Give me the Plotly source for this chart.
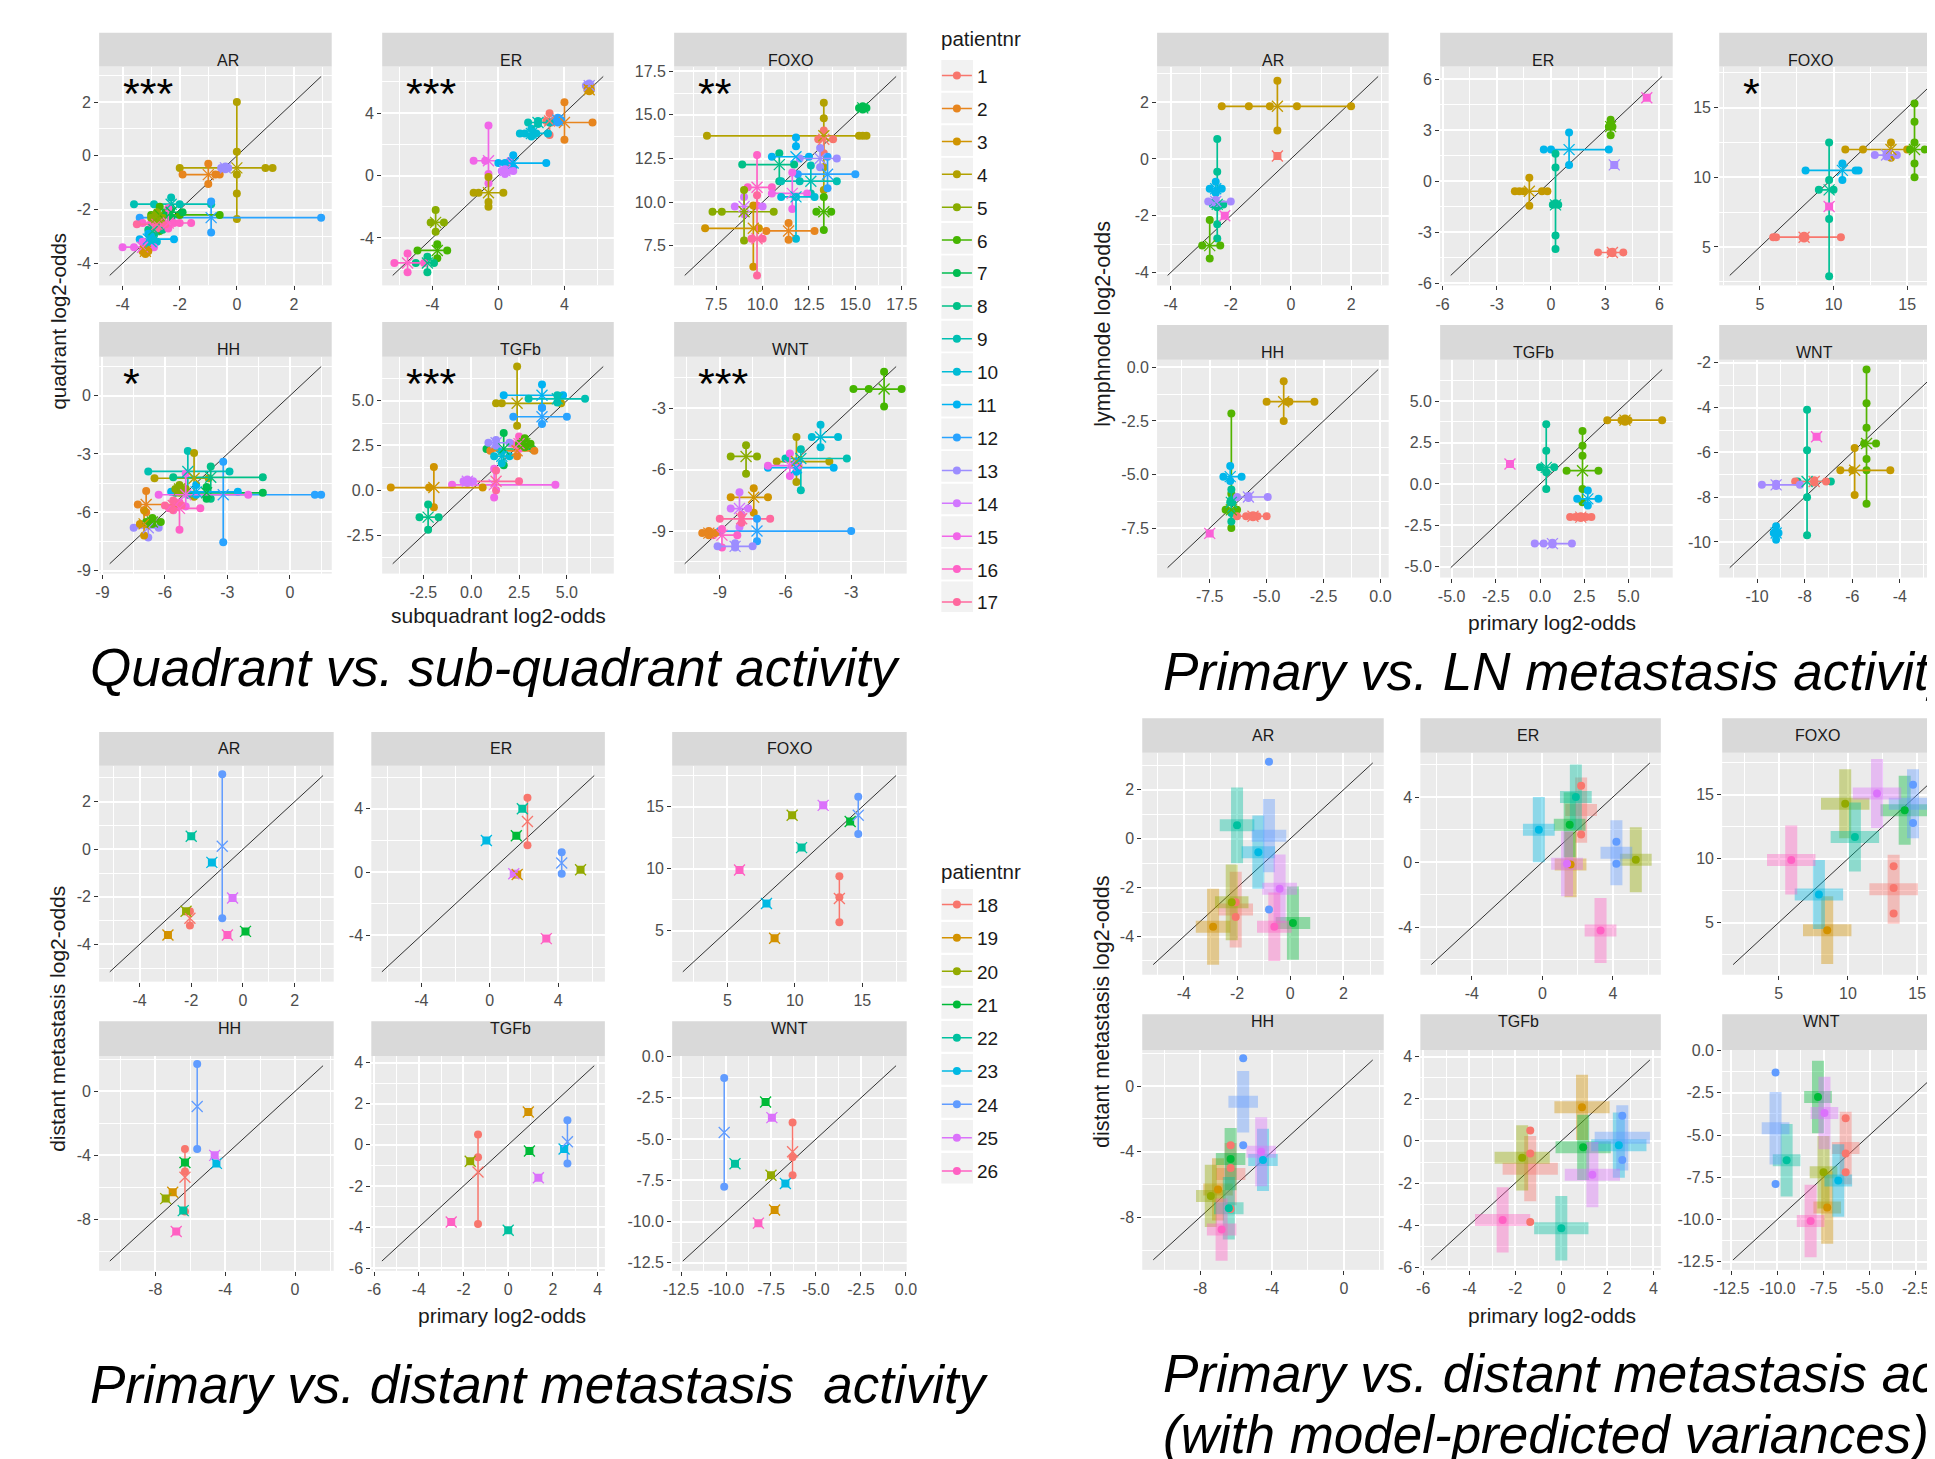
import math
import plotly.graph_objects as go

W, H = 1935, 1459
OFF = 8  # page offset of the figure (browser body margin); geometry below is in page pixels
FONT = "Liberation Sans, Arial, sans-serif"
PATHWAYS = ["AR", "ER", "FOXO", "HH", "TGFb", "WNT"]

# ======================= DATA =======================
# Quadrant vs sub-quadrant: (patient, centre x, centre y, subquadrant log2-odds, quadrant log2-odds)
QS_AR = [
    (4, 0.0, -0.45, [-2.0, 1.0, 1.25], [2.0, 0.15, -0.7, -1.4, -2.35]),
    (2, -1.0, -0.7, [-1.9, -0.75, -0.6], [-0.3, -1.05]),
    (13, -0.4, -0.45, [-0.55, -0.3], [-0.4, -0.5]),
    (9, -2.3, -1.8, [-3.6, -2.9, -2.0, -0.9], [-1.55, -2.0]),
    (12, -0.9, -2.3, [-3.4, -2.3, 2.95], [-1.7, -2.85]),
    (6, -2.7, -2.2, [-3.0, -2.0, -0.6], [-1.9, -2.8]),
    (7, -2.3, -2.1, [-2.5, -1.9], [-1.95, -2.3]),
    (8, -2.9, -2.75, [-3.1, -2.6], [-2.5, -2.95]),
    (16, -2.4, -2.5, [-3.3, -3.0, -2.6, -2.2, -2.0, -1.6], [-1.95, -2.7]),
    (17, -2.8, -2.55, [-3.5, -2.5], [-2.4, -2.7]),
    (11, -3.1, -3.1, [-3.4, -2.2], [-2.9, -3.4]),
    (10, -3.0, -3.2, [-3.3, -2.8], [-3.0, -3.3]),
    (15, -3.3, -3.4, [-4.0, -3.6, -2.9], [-3.2, -3.5]),
    (3, -3.2, -3.55, [-3.3, -3.1], [-3.45, -3.65]),
    (5, -2.8, -2.3, [-3.0, -2.6], [-2.1, -2.4]),
]
QS_ER = [
    (13, 5.5, 5.75, [5.3, 5.6], [5.9, 5.6]),
    (3, 5.5, 5.5, [5.4, 5.6], [5.4, 5.6]),
    (2, 4.0, 3.4, [3.2, 5.7], [4.7, 2.3]),
    (1, 3.1, 3.5, [2.9, 3.4], [4.0, 2.6]),
    (12, 3.6, 3.55, [3.4, 3.8], [3.7, 3.4]),
    (9, 2.4, 3.4, [1.8, 3.1], [3.3, 3.5]),
    (10, 2.0, 2.7, [1.3, 1.6, 2.3, 3.0], [3.0, 2.5]),
    (15, -0.6, 0.95, [-1.5, -0.8, 0.7], [3.2, 0.1, -0.5]),
    (11, 0.9, 0.8, [0.0, 0.4, 2.9], [1.3, 0.5]),
    (14, 0.4, 0.3, [0.2, 0.6, 0.9], [0.1, 0.4]),
    (4, -0.6, -1.1, [-1.5, -1.2, 0.3], [-0.1, -1.7, -2.0]),
    (5, -3.8, -3.0, [-4.1, -3.3], [-2.2, -3.6]),
    (6, -3.7, -4.8, [-4.9, -3.1], [-4.4, -5.3]),
    (8, -4.3, -5.6, [-5.0, -3.9], [-5.2, -6.2]),
    (16, -5.5, -5.6, [-6.3, -4.5], [-5.0, -6.2]),
]
QS_FOXO = [
    (7, 15.4, 15.4, [15.2, 15.6], [15.5, 15.3]),
    (4, 13.3, 13.8, [7.0, 15.2, 15.4, 15.6], [15.7, 14.8, 12.0, 10.7]),
    (1, 13.3, 13.6, [13.0, 13.8], [14.1, 12.8]),
    (8, 10.9, 12.15, [8.9, 11.7], [12.8, 11.2]),
    (11, 11.8, 12.6, [10.5, 12.5], [13.7, 13.2]),
    (12, 13.5, 11.6, [11.9, 15.0], [12.6, 10.8]),
    (13, 13.1, 12.5, [12.0, 14.0], [13.1, 12.0]),
    (9, 12.6, 11.2, [11.0, 12.0, 14.0], [12.1, 10.5]),
    (16, 9.7, 10.85, [9.2, 10.5], [12.7, 9.8]),
    (15, 11.6, 10.5, [10.5, 12.4], [11.7, 9.6]),
    (10, 11.8, 10.3, [11.0, 12.8], [10.3, 7.9]),
    (14, 9.0, 9.75, [8.5, 10.0], [10.3, 9.3]),
    (5, 9.0, 9.45, [7.3, 7.8, 10.6], [10.7, 7.8]),
    (6, 13.3, 9.45, [12.9, 13.7], [10.3, 8.4]),
    (3, 9.5, 8.5, [6.9, 9.8], [9.8, 6.3]),
    (2, 11.4, 8.35, [10.2, 12.8], [8.8, 7.85]),
    (17, 9.7, 7.9, [9.4, 10.0], [10.4, 5.8]),
]
QS_HH = [
    (12, -3.2, -5.1, [-4.7, 1.2, 1.5], [-3.4, -7.55]),
    (9, -4.9, -3.9, [-6.8, -2.9], [-2.85, -5.1]),
    (4, -4.6, -4.25, [-6.5, -3.9], [-2.95, -5.2]),
    (8, -3.8, -4.2, [-5.6, -1.3], [-3.65, -5.3]),
    (7, -4.0, -5.0, [-5.5, -1.3], [-4.7, -5.3]),
    (11, -4.5, -4.95, [-5.7, -2.5], [-4.6, -5.1]),
    (5, -5.3, -4.8, [-5.5, -5.0], [-4.6, -5.0]),
    (15, -5.0, -5.1, [-6.3, -2.0], [-4.0, -5.7]),
    (2, -6.9, -5.6, [-7.3, -5.5], [-4.9, -6.0]),
    (16, -5.3, -5.8, [-5.8, -4.3], [-5.5, -6.9]),
    (17, -5.6, -5.65, [-6.0, -5.2], [-5.4, -5.9]),
    (13, -6.8, -6.8, [-7.5, -6.3], [-6.5, -7.3]),
    (3, -7.0, -6.6, [-7.2, -6.9], [-5.9, -7.2]),
    (6, -6.6, -6.5, [-6.9, -6.2], [-6.3, -6.6]),
]
QS_TGFb = [
    (4, 2.4, 4.85, [1.3, 1.6, 4.7], [6.9, 3.6]),
    (11, 3.7, 5.3, [1.7, 4.8], [5.9, 4.6]),
    (9, 4.5, 5.1, [3.0, 5.95], [5.3, 4.9]),
    (12, 3.7, 4.1, [2.2, 5.0], [4.6, 3.7]),
    (7, 1.7, 2.3, [0.8, 3.2], [3.2, 1.4]),
    (2, 2.4, 2.2, [1.0, 3.3], [2.5, 1.9]),
    (16, 2.5, 2.6, [2.1, 3.0], [3.0, 2.3]),
    (13, 1.3, 2.65, [0.9, 2.0], [2.8, 2.5]),
    (6, 2.8, 2.6, [2.5, 3.1], [2.9, 2.4]),
    (10, 1.6, 1.9, [1.2, 2.0], [2.2, 1.5]),
    (15, 1.2, 0.3, [-1.0, 4.4], [1.2, -0.4]),
    (17, 1.3, 0.5, [-0.2, 2.5], [1.1, 0.0]),
    (14, -0.2, 0.5, [-0.4, 0.1], [0.6, 0.4]),
    (3, -1.95, 0.15, [-4.2, -2.2, 0.6], [1.3, -0.95]),
    (8, -2.25, -1.5, [-2.7, -1.7], [-0.8, -2.2]),
]
QS_WNT = [
    (6, -1.5, -2.05, [-2.9, -2.2, -0.7], [-1.2, -2.9]),
    (10, -4.4, -4.4, [-4.8, -3.6], [-3.8, -4.9]),
    (4, -5.5, -5.6, [-6.4, -4.0], [-4.4, -6.6]),
    (9, -5.3, -5.45, [-6.0, -3.2], [-5.0, -7.0]),
    (5, -7.8, -5.35, [-8.5, -7.3], [-4.8, -6.2]),
    (11, -5.5, -5.9, [-6.8, -3.8], [-5.6, -6.1]),
    (15, -5.8, -5.8, [-6.8, -5.4], [-5.2, -6.3]),
    (3, -7.45, -7.35, [-8.5, -6.8], [-6.9, -8.1]),
    (14, -8.1, -7.9, [-8.5, -7.7], [-7.1, -8.8]),
    (17, -8.0, -8.4, [-9.0, -6.7], [-8.2, -8.6]),
    (12, -7.3, -9.0, [-9.0, -3.0], [-8.4, -9.5]),
    (16, -8.9, -9.2, [-9.3, -8.2], [-8.9, -9.8]),
    (13, -8.3, -9.75, [-9.1, -7.5], [-9.6, -9.8]),
    (2, -9.5, -9.1, [-9.8, -9.2], [-9.0, -9.2]),
]
QS_DATA = {"AR": QS_AR, "ER": QS_ER, "FOXO": QS_FOXO, "HH": QS_HH, "TGFb": QS_TGFb, "WNT": QS_WNT}

# Primary vs lymph-node metastasis: (patient, centre x, centre y, primary values, lymphnode values)
LN_AR = [
    (2, -0.45, 1.85, [-2.3, -1.4, -0.7, 0.2, 2.0], [2.75, 1.0]),
    (1, -0.45, 0.1, [-0.45], [0.1]),
    (4, -2.45, -1.6, [-2.6, -2.25], [0.7, -0.45, -1.7, -2.3, -2.8]),
    (5, -2.5, -1.05, [-2.7, -2.3], [-0.8, -1.2]),
    (6, -2.5, -1.5, [-2.75, -2.0], [-1.45, -1.55]),
    (7, -2.2, -2.0, [-2.2], [-2.0]),
    (3, -2.7, -3.05, [-2.95, -2.35], [-2.15, -3.5]),
]
LN_ER = [
    (2, -1.2, -0.6, [-2.0, -1.75, -1.5, -0.5, -0.2], [0.2, -1.45]),
    (5, 1.0, 1.85, [-0.4, 0.0, 3.2], [2.85, 0.95]),
    (4, 0.25, -1.4, [0.1, 0.4], [1.6, 0.8, -1.3, -3.2, -4.0]),
    (3, 3.3, 3.2, [3.2, 3.4], [3.6, 3.4, 2.7]),
    (7, 5.3, 4.9, [5.3], [4.9]),
    (6, 3.5, 0.95, [3.5], [0.95]),
    (1, 3.4, -4.2, [2.6, 3.3, 4.0], [-4.15, -4.25]),
]
LN_FOXO = [
    (1, 8.0, 5.7, [5.9, 6.1, 7.9, 8.1, 10.5], [5.6, 5.8]),
    (4, 9.7, 9.1, [9.0, 10.0], [12.5, 9.8, 7.0, 2.9]),
    (5, 10.6, 10.5, [8.1, 11.5, 11.7], [11.0, 9.8]),
    (7, 9.7, 7.9, [9.7], [7.9]),
    (2, 13.9, 12.0, [10.8, 12.0, 15.0], [12.5, 11.4]),
    (6, 13.6, 11.6, [12.8, 14.3], [11.5, 11.7]),
    (3, 15.5, 12.0, [15.2, 16.2], [15.3, 14.0, 12.5, 11.0, 10.0]),
]
LN_HH = [
    (2, -4.25, -1.6, [-5.0, -4.1, -4.0, -2.9], [-0.65, -2.5]),
    (3, -6.55, -6.65, [-6.8, -6.3], [-2.15, -5.9, -7.5]),
    (5, -6.6, -5.1, [-6.9, -6.1], [-4.6, -5.3]),
    (4, -6.55, -6.3, [-6.6, -6.5], [-5.7, -6.2, -6.8, -7.2]),
    (6, -5.8, -6.05, [-6.3, -4.95], [-6.0, -6.1]),
    (1, -5.6, -6.95, [-6.3, -5.9, -5.4, -5.0], [-6.9, -7.0]),
    (7, -7.5, -7.75, [-7.5], [-7.75]),
]
LN_TGFb = [
    (2, 4.8, 3.85, [3.8, 4.6, 5.0, 6.9], [3.75, 3.95]),
    (4, 0.35, 1.0, [0.0, 0.8], [3.6, 2.0, 0.7, -0.3]),
    (3, 2.4, 0.8, [1.5, 3.3], [3.2, 2.3, 1.7, -0.3, -1.1]),
    (5, 2.7, -0.9, [2.1, 3.3], [-0.4, -1.3]),
    (1, 2.3, -2.0, [1.7, 2.0, 2.6, 2.9], [-1.95, -2.05]),
    (6, 0.7, -3.6, [-0.3, 0.2, 0.7, 1.8], [-3.55, -3.65]),
    (7, -1.7, 1.2, [-1.7], [1.2]),
]
LN_WNT = [
    (3, -5.4, -5.6, [-5.5, -5.0], [-2.3, -3.8, -4.9, -6.3, -6.8, -8.3]),
    (2, -5.9, -6.8, [-6.5, -6.0, -4.4], [-5.8, -7.9]),
    (4, -7.9, -7.3, [-8.3, -6.9], [-4.1, -5.9, -8.0, -9.7]),
    (1, -7.6, -7.3, [-8.4, -7.1], [-7.25, -7.35]),
    (6, -9.2, -7.45, [-9.8, -8.2], [-7.4, -7.5]),
    (5, -9.2, -9.6, [-9.3, -9.1], [-9.3, -9.9]),
    (7, -7.5, -5.3, [-7.5], [-5.3]),
]
LN_DATA = {"AR": LN_AR, "ER": LN_ER, "FOXO": LN_FOXO, "HH": LN_HH, "TGFb": LN_TGFb, "WNT": LN_WNT}

# Primary vs distant metastasis: (patient, primary log2-odds, [distant metastasis log2-odds])
DM_AR = [(18, -2.05, [-2.6, -3.2]), (19, -2.9, [-3.6]), (20, -2.2, [-2.6]), (21, 0.1, [-3.45]),
         (22, -2.0, [0.55]), (23, -1.2, [-0.55]), (24, -0.8, [3.15, -2.9]), (25, -0.4, [-2.05]), (26, -0.6, [-3.6])]
DM_ER = [(18, 2.2, [4.7, 1.7]), (19, 1.6, [-0.15]), (20, 5.3, [0.15]), (21, 1.55, [2.3]),
         (22, 1.9, [4.0]), (23, -0.2, [2.0]), (24, 4.2, [1.25, -0.1]), (25, 1.4, [-0.1]), (26, 3.3, [-4.2])]
DM_FOXO = [(18, 13.3, [9.4, 7.7, 5.7]), (19, 8.5, [4.4]), (20, 9.8, [14.3]), (21, 14.1, [13.8]),
           (22, 10.5, [11.7]), (23, 7.9, [7.2]), (24, 14.7, [15.8, 12.8]), (25, 12.1, [15.1]), (26, 5.9, [9.9])]
DM_HH = [(18, -6.3, [-3.6, -5.0, -7.5]), (19, -7.0, [-6.3]), (20, -7.4, [-6.7]), (21, -6.3, [-4.45]),
         (22, -6.4, [-7.45]), (23, -4.5, [-4.5]), (24, -5.6, [1.7, -3.6]), (25, -4.6, [-4.0]), (26, -6.8, [-8.75])]
DM_TGFb = [(18, -1.35, [0.5, -0.6, -3.85]), (19, 0.9, [1.6]), (20, -1.7, [-0.8]), (21, 0.95, [-0.3]),
           (22, 0.0, [-4.15]), (23, 2.5, [-0.2]), (24, 2.65, [1.2, -0.9]), (25, 1.35, [-1.6]), (26, -2.55, [-3.75])]
DM_WNT = [(18, -6.3, [-4.0, -6.1, -7.2]), (19, -7.3, [-9.3]), (20, -7.5, [-7.2]), (21, -7.8, [-2.75]),
          (22, -9.5, [-6.5]), (23, -6.7, [-7.7]), (24, -10.1, [-1.3, -7.9]), (25, -7.45, [-3.7]), (26, -8.2, [-10.1])]
DM_DATA = {"AR": DM_AR, "ER": DM_ER, "FOXO": DM_FOXO, "HH": DM_HH, "TGFb": DM_TGFb, "WNT": DM_WNT}

# model-predicted standard deviations (primary, distant) per patient 18..26
VAR_SX = {"AR": [0.65, 0.65, 0.63, 0.65, 0.65, 0.63, 0.65, 0.65, 0.65],
          "ER": [0.9, 0.9, 0.9, 0.9, 0.9, 0.9, 0.9, 0.9, 0.9],
          "FOXO": [1.75, 1.75, 1.75, 1.75, 1.75, 1.75, 1.75, 1.75, 1.75],
          "HH": [0.82, 0.82, 0.82, 0.82, 0.82, 0.82, 0.82, 0.82, 0.82],
          "TGFb": [1.2, 1.2, 1.2, 1.2, 1.18, 1.2, 1.2, 1.2, 1.2],
          "WNT": [0.75, 0.75, 0.75, 0.75, 0.75, 0.75, 0.75, 0.75, 0.75]}
VAR_SY = {"AR": [1.55, 1.55, 1.55, 1.5, 1.55, 1.5, 1.5, 1.4, 1.4],
          "ER": [2.0, 2.0, 2.0, 2.0, 2.0, 2.0, 2.0, 2.0, 2.0],
          "FOXO": [2.7, 2.65, 2.7, 2.7, 2.7, 2.7, 2.7, 2.7, 2.7],
          "HH": [1.9, 1.9, 1.9, 1.9, 1.9, 1.9, 1.88, 2.1, 1.9],
          "TGFb": [1.55, 1.55, 1.55, 1.55, 1.53, 1.55, 1.55, 1.55, 1.55],
          "WNT": [2.15, 2.15, 2.15, 2.15, 2.15, 2.15, 2.15, 2.15, 2.15]}

# axis limits (shared by x and y in each panel)
QS_LIM = {"AR": (-4.45, 2.95), "ER": (-6.4, 6.35), "FOXO": (5.8, 17.2), "HH": (-8.65, 1.5), "TGFb": (-4.1, 6.9), "WNT": (-10.6, -0.95)}
LN_LIM = {"AR": (-4.1, 2.9), "ER": (-5.55, 6.15), "FOXO": (2.95, 17.25), "HH": (-9.35, -0.1), "TGFb": (-5.05, 6.9), "WNT": (-11.15, -2.3)}
DM_LIM = {"AR": (-5.15, 3.1), "ER": (-6.3, 6.1), "FOXO": (1.7, 17.5), "HH": (-10.6, 1.6), "TGFb": (-5.65, 3.85), "WNT": (-12.4, -0.55)}

QS_TICKS = {"AR": [-4, -2, 0, 2], "ER": [-4, 0, 4], "FOXO": [7.5, 10, 12.5, 15, 17.5], "HH": [-9, -6, -3, 0], "TGFb": [-2.5, 0, 2.5, 5], "WNT": [-9, -6, -3]}
LN_TICKS = {"AR": [-4, -2, 0, 2], "ER": [-6, -3, 0, 3, 6], "FOXO": [5, 10, 15], "HH": [-7.5, -5, -2.5, 0], "TGFb": [-5, -2.5, 0, 2.5, 5], "WNT": [-10, -8, -6, -4, -2]}
DM_TICKS = {"AR": [-4, -2, 0, 2], "ER": [-4, 0, 4], "FOXO": [5, 10, 15], "HH": [-8, -4, 0], "TGFb": [-6, -4, -2, 0, 2, 4], "WNT": [-12.5, -10, -7.5, -5, -2.5, 0]}

QS_STARS = {"AR": "***", "ER": "***", "FOXO": "**", "HH": "*", "TGFb": "***", "WNT": "***"}
LN_STARS = {"FOXO": "*"}

QS_PATIENTS = list(range(1, 18))
LN_PATIENTS = list(range(1, 8))
DM_PATIENTS = list(range(18, 27))

# ======================= STYLE / LAYOUT =======================
def hcl_hex(h, c=100.0, l=65.0):
    L = l
    U = c * math.cos(math.radians(h))
    V = c * math.sin(math.radians(h))
    Y = 100.0 * (((L + 16) / 116) ** 3 if L > 7.999592 else L / 903.3)
    u = U / (13 * L) + 0.1978398
    v = V / (13 * L) + 0.4683363
    X = 9.0 * Y * u / (4 * v)
    Z = -X / 3 - 5 * Y + 3 * Y / v
    rgb = (3.240479 * X - 1.537150 * Y - 0.498535 * Z,
           -0.969256 * X + 1.875992 * Y + 0.041556 * Z,
           0.055648 * X - 0.204043 * Y + 1.057311 * Z)
    out = []
    for t in rgb:
        t /= 100.0
        t = 1.055 * t ** (1 / 2.4) - 0.055 if t > 0.00304 else 12.92 * t
        out.append(int(round(255 * min(1.0, max(0.0, t)))))
    return "#%02X%02X%02X" % tuple(out)


def hue_pal(n):
    return [hcl_hex(15 + 360.0 * i / n) for i in range(n)]


def rgba(hexc, a):
    return "rgba(%d,%d,%d,%.2f)" % (int(hexc[1:3], 16), int(hexc[3:5], 16), int(hexc[5:7], 16), a)


QS_COL = dict(zip(QS_PATIENTS, hue_pal(len(QS_PATIENTS))))
LN_COL = dict(zip(LN_PATIENTS, hue_pal(len(LN_PATIENTS))))
DM_COL = dict(zip(DM_PATIENTS, hue_pal(len(DM_PATIENTS))))

# pixel geometry (page pixels) of each facet grid: column x-extents, rows = (strip top, panel top, panel bottom)
GEOM_QS = {"cols": [(91, 326), (377, 611), (672, 907)], "rows": [(25, 59, 280), (317, 352, 571)]}
GEOM_LN = {"cols": [(1160, 1394), (1446, 1681), (1728, 1962)], "rows": [(25, 59, 280), (320, 355, 575)]}
GEOM_DM = {"cols": [(91, 328), (366, 602), (670, 907)], "rows": [(731, 765, 983), (1023, 1058, 1275)]}
GEOM_VAR = {"cols": [(1145, 1389), (1426, 1669), (1731, 1974)], "rows": [(717, 752, 976), (1016, 1052, 1274)]}


def fx(px):
    return (px - OFF) / W


def fy(py):
    return 1 - (py - OFF) / H


fig = go.Figure()
axes = {}
shapes = []
annots = []
counter = [0]


def fmt(v, dec):
    return ("%.1f" % v) if dec else ("%d" % int(round(v)))


def add_panel(geom, idx, name, lim, ticks, stars=None):
    counter[0] += 1
    k = counter[0]
    sfx = "" if k == 1 else str(k)
    c, r = idx % 3, idx // 3
    x0, x1 = geom["cols"][c]
    s0, p0, p1 = geom["rows"][r]
    lo, hi = lim
    pad = 0.05 * (hi - lo)
    rlo, rhi = lo - pad, hi + pad
    if fx(x1) > 1:
        xhi = rlo + (rhi - rlo) * (W + OFF - x0) / (x1 - x0)
        d1 = 1.0
    else:
        xhi, d1 = rhi, fx(x1)
    dec = any(abs(t - round(t)) > 1e-9 for t in ticks)
    labels = [fmt(t, dec) for t in ticks]
    step = ticks[1] - ticks[0]
    minors = [ticks[0] - step / 2] + [t + step / 2 for t in ticks]
    common = dict(tickvals=ticks, ticktext=labels, showgrid=True, gridcolor="white", gridwidth=1.6,
                  zeroline=False, showline=False, ticks="outside", ticklen=4, tickwidth=1,
                  tickcolor="#333333", tickfont=dict(size=16, color="#4D4D4D", family=FONT),
                  minor=dict(tickvals=minors, showgrid=True, gridcolor="white", gridwidth=0.8, ticks=""),
                  fixedrange=True)
    axes["xaxis" + sfx] = dict(common, domain=[fx(x0), d1], range=[rlo, xhi], anchor="y" + sfx)
    axes["yaxis" + sfx] = dict(common, domain=[fy(p1), fy(p0)], range=[rlo, rhi], anchor="x" + sfx)
    shapes.append(dict(type="rect", xref="paper", yref="paper", x0=fx(x0), x1=fx(x1),
                       y0=fy(p0), y1=fy(s0), fillcolor="#D9D9D9", line=dict(width=0), layer="below"))
    annots.append(dict(text=name, x=fx((x0 + x1) / 2), y=fy((s0 + p0) / 2), xref="paper", yref="paper",
                       showarrow=False, font=dict(size=16, color="#1A1A1A", family=FONT)))
    if stars:
        annots.append(dict(text=stars, x=fx(x0 + 22), y=fy(p0 + 27), xref="paper", yref="paper",
                           xanchor="left", yanchor="middle", showarrow=False,
                           font=dict(size=43, color="black", family=FONT)))
    xa, ya = "x" + sfx, "y" + sfx
    fig.add_trace(go.Scatter(x=[lo, hi], y=[lo, hi], mode="lines", line=dict(color="black", width=0.8),
                             xaxis=xa, yaxis=ya, showlegend=False, hoverinfo="skip"))
    return xa, ya


def centre_markers(xa, ya, xs, ys, cols, size=10):
    fig.add_trace(go.Scatter(x=xs, y=ys, mode="markers", xaxis=xa, yaxis=ya, showlegend=False, hoverinfo="skip",
                             marker=dict(symbol="x-thin", size=size, color=cols, line=dict(color=cols, width=1.3))))


def draw_crosses(xa, ya, clusters, colours):
    cx_l, cy_l, cc = [], [], []
    sq_x, sq_y, sq_c = [], [], []
    for pid, cx, cy, xs, ys in clusters:
        col = colours[pid]
        if list(xs) == [cx] and list(ys) == [cy]:
            sq_x.append(cx); sq_y.append(cy); sq_c.append(col)
        else:
            hx, vy = sorted(xs), sorted(ys)
            fig.add_trace(go.Scatter(x=hx + [None] + [cx] * len(vy), y=[cy] * len(hx) + [None] + vy,
                                     mode="lines+markers", line=dict(color=col, width=1.7),
                                     marker=dict(color=col, size=8), xaxis=xa, yaxis=ya,
                                     showlegend=False, hoverinfo="skip", connectgaps=False))
        cx_l.append(cx); cy_l.append(cy); cc.append(col)
    if sq_x:
        fig.add_trace(go.Scatter(x=sq_x, y=sq_y, mode="markers", xaxis=xa, yaxis=ya, showlegend=False,
                                 hoverinfo="skip", marker=dict(symbol="square", size=8, color=sq_c)))
    centre_markers(xa, ya, cx_l, cy_l, cc, size=11)


def draw_distant(xa, ya, rows, colours):
    sq_x, sq_y, sq_c = [], [], []
    cx, cy, cc = [], [], []
    for pid, x, ys in rows:
        col = colours[pid]
        m = sum(ys) / len(ys)
        if len(ys) > 1:
            vy = sorted(ys)
            fig.add_trace(go.Scatter(x=[x] * len(vy), y=vy, mode="lines+markers", line=dict(color=col, width=1.5),
                                     marker=dict(color=col, size=8), xaxis=xa, yaxis=ya,
                                     showlegend=False, hoverinfo="skip"))
        else:
            sq_x.append(x); sq_y.append(ys[0]); sq_c.append(col)
        cx.append(x); cy.append(m); cc.append(col)
    fig.add_trace(go.Scatter(x=sq_x, y=sq_y, mode="markers", xaxis=xa, yaxis=ya, showlegend=False,
                             hoverinfo="skip", marker=dict(symbol="square", size=8, color=sq_c)))
    centre_markers(xa, ya, cx, cy, cc, size=11)


def draw_variance(xa, ya, rows, sxs, sys_, colours):
    dx, dy, dc = [], [], []
    for (pid, x, ys), ex, ey in zip(rows, sxs, sys_):
        col = rgba(colours[pid], 0.4)
        m = sum(ys) / len(ys)
        fig.add_trace(go.Scatter(x=[x, x], y=[m - ey, m + ey], mode="lines", line=dict(color=col, width=12),
                                 xaxis=xa, yaxis=ya, showlegend=False, hoverinfo="skip"))
        fig.add_trace(go.Scatter(x=[x - ex, x + ex], y=[m, m], mode="lines", line=dict(color=col, width=12),
                                 xaxis=xa, yaxis=ya, showlegend=False, hoverinfo="skip"))
        for yv in ys:
            dx.append(x); dy.append(yv); dc.append(colours[pid])
    fig.add_trace(go.Scatter(x=dx, y=dy, mode="markers", xaxis=xa, yaxis=ya, showlegend=False,
                             hoverinfo="skip", marker=dict(size=8, color=dc)))


for i, p in enumerate(PATHWAYS):
    xa, ya = add_panel(GEOM_QS, i, p, QS_LIM[p], QS_TICKS[p], QS_STARS.get(p))
    draw_crosses(xa, ya, QS_DATA[p], QS_COL)
for i, p in enumerate(PATHWAYS):
    xa, ya = add_panel(GEOM_LN, i, p, LN_LIM[p], LN_TICKS[p], LN_STARS.get(p))
    draw_crosses(xa, ya, LN_DATA[p], LN_COL)
for i, p in enumerate(PATHWAYS):
    xa, ya = add_panel(GEOM_DM, i, p, DM_LIM[p], DM_TICKS[p])
    draw_distant(xa, ya, DM_DATA[p], DM_COL)
for i, p in enumerate(PATHWAYS):
    xa, ya = add_panel(GEOM_VAR, i, p, DM_LIM[p], DM_TICKS[p])
    draw_variance(xa, ya, DM_DATA[p], VAR_SX[p], VAR_SY[p], DM_COL)

# legends
for pid in QS_PATIENTS:
    c = QS_COL[pid]
    fig.add_trace(go.Scatter(x=[None], y=[None], mode="lines+markers", name=str(pid), legend="legend",
                             legendgroup="q%d" % pid, line=dict(color=c, width=1.5), marker=dict(color=c, size=8)))
for pid in DM_PATIENTS:
    c = DM_COL[pid]
    fig.add_trace(go.Scatter(x=[None], y=[None], mode="lines+markers", name=str(pid), legend="legend2",
                             legendgroup="d%d" % pid, line=dict(color=c, width=1.5), marker=dict(color=c, size=8)))

LEG_FONT = 19
ITEM_H = LEG_FONT * 1.3 + 3  # plotly legend entry height
KEY1_Y0, KEY1_STEP = 68, 32.9
KEY2_Y0, KEY2_STEP = 905, 33.3
KEY_X0, KEY_X1 = 942, 974
for i in range(len(QS_PATIENTS)):
    yc = KEY1_Y0 + KEY1_STEP * i
    shapes.append(dict(type="rect", xref="paper", yref="paper", x0=fx(KEY_X0), x1=fx(KEY_X1),
                       y0=fy(yc + 15.5), y1=fy(yc - 15.5), fillcolor="#F2F2F2", line=dict(width=0), layer="below"))
for i in range(len(DM_PATIENTS)):
    yc = KEY2_Y0 + KEY2_STEP * i
    shapes.append(dict(type="rect", xref="paper", yref="paper", x0=fx(KEY_X0), x1=fx(KEY_X1),
                       y0=fy(yc + 15.5), y1=fy(yc - 15.5), fillcolor="#F2F2F2", line=dict(width=0), layer="below"))

LEG = dict(xanchor="left", yanchor="top", bgcolor="rgba(0,0,0,0)",
           font=dict(size=LEG_FONT, color="#1A1A1A", family=FONT), itemwidth=30, traceorder="grouped")


def txt(text, x, y, size=20.5, angle=0, anchor="center", style="normal", color="#1A1A1A"):
    annots.append(dict(text=text, x=fx(x), y=fy(y), xref="paper", yref="paper", showarrow=False,
                       textangle=angle, xanchor=anchor, yanchor="middle",
                       font=dict(size=size, color=color, family=FONT, style=style)))


# legend titles
txt("patientnr", 940, 31, anchor="left")
txt("patientnr", 940, 872, anchor="left")

# axis titles
txt("quadrant log2-odds", 49, 316, angle=-90)
txt("subquadrant log2-odds", 495, 613, size=21)
txt("lymphnode log2-odds", 1105, 319, size=21.5, angle=-90)
txt("primary log2-odds", 1559, 620, size=21)
txt("distant metastasis log2-odds", 49, 1021, size=21, angle=-90)
txt("primary log2-odds", 498, 1320, size=21)
txt("distant metastasis log2-odds", 1105, 1014, size=21.5, angle=-90)
txt("primary log2-odds", 1559, 1320, size=21)

# block titles
txt("Quadrant vs. sub-quadrant activity", 80, 666, size=53, anchor="left", style="italic", color="black")
txt("Primary vs. LN metastasis activity", 1164, 670, size=53, anchor="left", style="italic", color="black")
txt("Primary vs. distant metastasis\u00a0 activity", 80, 1390, size=53, anchor="left", style="italic", color="black")
txt("Primary vs. distant metastasis activity", 1164, 1379, size=53, anchor="left", style="italic", color="black")
txt("(with model-predicted variances)", 1164, 1440, size=53, anchor="left", style="italic", color="black")

fig.update_layout(
    width=W, height=H, autosize=False, margin=dict(l=0, r=0, t=0, b=0),
    paper_bgcolor="white", plot_bgcolor="#EBEBEB", showlegend=True,
    shapes=shapes, annotations=annots,
    legend=dict(LEG, x=fx(937.5), y=fy(KEY1_Y0 - 5 - ITEM_H / 2), tracegroupgap=KEY1_STEP - ITEM_H),
    legend2=dict(LEG, x=fx(937.5), y=fy(KEY2_Y0 - 5 - ITEM_H / 2), tracegroupgap=KEY2_STEP - ITEM_H),
    font=dict(family=FONT),
    **axes,
)
fig.write_html("out.html")
